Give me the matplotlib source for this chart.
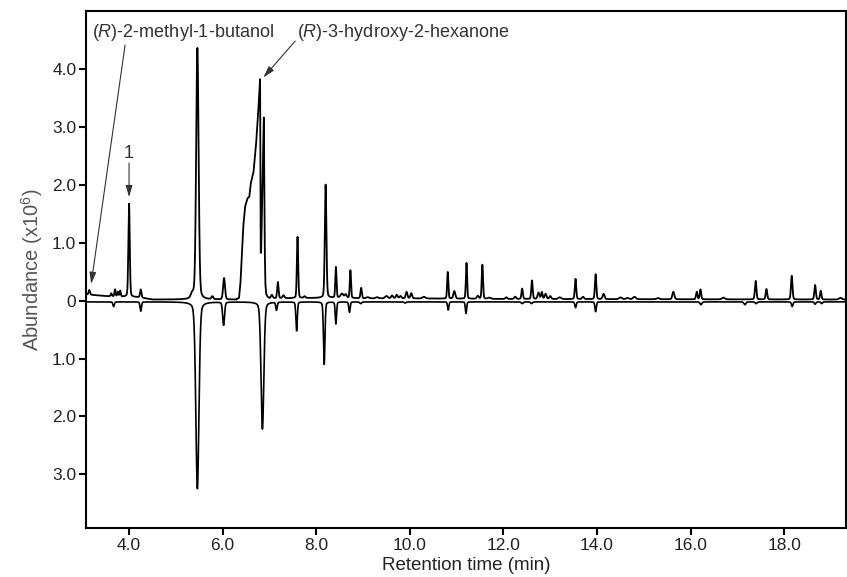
import numpy as np
import matplotlib
matplotlib.use("Agg")
import matplotlib.pyplot as plt

plt.rcParams['font.family'] = ['Liberation Sans', 'DejaVu Sans']
plt.rcParams['mathtext.fontset'] = 'custom'
plt.rcParams['mathtext.rm'] = 'Liberation Sans'
plt.rcParams['mathtext.it'] = 'Liberation Sans:italic'

# ---------------- data ----------------
# upper trace baseline (time, abundance x1e6)
up_base_t = [3.08, 3.5, 4.2, 4.5, 5.2, 6.3, 7.0, 8.5, 9.0, 10.0, 12.0, 19.32]
up_base_v = [0.11, 0.08, 0.06, 0.02, 0.02, 0.02, 0.04, 0.05, 0.04, 0.04, 0.03, 0.02]

# upper trace peaks: retention time, height above baseline, width (sigma)
up_peak_t = [3.15, 3.62, 3.70, 3.76, 3.81, 4.00, 4.25, 5.35, 5.46, 5.78, 6.03,
             7.05, 7.18, 7.30, 7.60, 7.75, 8.20, 8.42, 8.55, 8.63, 8.73, 8.96,
             9.10, 9.30, 9.50, 9.62, 9.72, 9.80, 9.93, 10.03, 10.30, 10.81, 10.95,
             11.21, 11.45, 11.55, 11.70, 12.06, 12.25, 12.40, 12.61, 12.75, 12.82,
             12.90, 13.00, 13.20, 13.54, 13.70, 13.97, 14.14, 14.50, 14.65, 14.80,
             15.30, 15.63, 16.13, 16.21, 16.70, 17.39, 17.62, 18.16, 18.66, 18.78,
             19.20]
up_peak_h = [0.08, 0.05, 0.12, 0.08, 0.10, 1.61, 0.14, 0.08, 4.35, 0.05, 0.37,
             0.06, 0.28, 0.05, 1.06, 0.03, 1.96, 0.53, 0.07, 0.06, 0.48, 0.18,
             0.02, 0.02, 0.04, 0.05, 0.06, 0.04, 0.11, 0.09, 0.03, 0.46, 0.13,
             0.62, 0.05, 0.59, 0.02, 0.03, 0.04, 0.18, 0.32, 0.11, 0.12,
             0.09, 0.05, 0.03, 0.35, 0.04, 0.43, 0.09, 0.03, 0.02, 0.04,
             0.02, 0.13, 0.13, 0.17, 0.03, 0.32, 0.18, 0.41, 0.25, 0.15,
             0.03]
up_peak_w = [0.015, 0.012, 0.012, 0.012, 0.012, 0.015, 0.015, 0.03, 0.026, 0.02, 0.02,
             0.02, 0.015, 0.02, 0.014, 0.02, 0.017, 0.013, 0.03, 0.02, 0.013, 0.015,
             0.03, 0.03, 0.03, 0.02, 0.02, 0.02, 0.018, 0.018, 0.03, 0.013, 0.02,
             0.013, 0.02, 0.014, 0.03, 0.02, 0.02, 0.015, 0.015, 0.02, 0.015,
             0.02, 0.02, 0.03, 0.015, 0.02, 0.015, 0.02, 0.03, 0.03, 0.03,
             0.03, 0.02, 0.015, 0.015, 0.03, 0.016, 0.016, 0.016, 0.016, 0.015,
             0.03]

# unresolved fronting peak region of the upper trace (explicit points)
cx_t = [6.30, 6.35, 6.38, 6.41, 6.44, 6.48, 6.53, 6.57, 6.60, 6.66, 6.71, 6.75,
        6.80, 6.812, 6.822, 6.880, 6.898, 6.912, 6.93, 6.96, 7.00]
cx_v = [0.03, 0.05, 0.30, 0.76, 1.28, 1.63, 1.77, 1.80, 2.03, 2.23, 2.66, 3.13,
        3.83, 0.83, 0.83, 3.17, 1.00, 0.30, 0.12, 0.07, 0.05]

# lower (inverted) trace
low_base = -0.02
low_peak_t = [3.67, 4.25, 5.46, 6.02, 6.85, 7.15, 7.58, 8.17, 8.42, 8.71, 8.95,
              9.90, 10.82, 11.20, 12.40, 12.60, 13.54, 13.97, 16.22, 17.16, 17.40,
              18.17, 18.66, 18.80]
low_peak_h = [-0.08, -0.16, -3.23, -0.40, -2.20, -0.14, -0.50, -1.08, -0.38, -0.18, -0.03,
              -0.02, -0.14, -0.20, -0.03, -0.03, -0.10, -0.17, -0.05, -0.05, -0.03,
              -0.08, -0.04, -0.03]
low_peak_w = [0.015, 0.015, 0.033, 0.02, 0.03, 0.015, 0.015, 0.016, 0.014, 0.015, 0.02,
              0.02, 0.014, 0.014, 0.02, 0.02, 0.015, 0.015, 0.02, 0.02, 0.02,
              0.016, 0.016, 0.016]

x_ticks = [4.0, 6.0, 8.0, 10.0, 12.0, 14.0, 16.0, 18.0]
x_ticklabels = ['4.0', '6.0', '8.0', '10.0', '12.0', '14.0', '16.0', '18.0']
y_ticks = [4.0, 3.0, 2.0, 1.0, 0.0, -1.0, -2.0, -3.0]
y_ticklabels = ['4.0', '3.0', '2.0', '1.0', '0', '1.0', '2.0', '3.0']

# ---------------- build traces (pseudo-Voigt peak shape) ----------------
ETA = 0.22


def peak(tt, p, h, w):
    g = np.exp(-0.5 * ((tt - p) / w) ** 2)
    gam = 1.1774 * w
    lor = 1.0 / (1.0 + ((tt - p) / gam) ** 2)
    return h * ((1 - ETA) * g + ETA * lor)


t = np.union1d(np.linspace(3.08, 19.32, 8121), cx_t)

upper = np.interp(t, up_base_t, up_base_v)
for p, h, w in zip(up_peak_t, up_peak_h, up_peak_w):
    upper = upper + peak(t, p, h, w)
region = (t >= cx_t[0]) & (t <= cx_t[-1])
upper = np.where(region, np.interp(t, cx_t, cx_v), upper)

lower = np.full_like(t, low_base)
for p, h, w in zip(low_peak_t, low_peak_h, low_peak_w):
    lower = lower + peak(t, p, h, w)

# ---------------- draw ----------------
fig = plt.figure(figsize=(8.47, 5.77), dpi=100)
ax = fig.add_axes([86 / 847, 1 - 528 / 577, 760 / 847, 517 / 577])

ax.plot(t, lower, color='black', lw=1.2, zorder=3)
ax.plot(t, upper, color='black', lw=1.3, zorder=4)

ax.set_xlim(3.08, 19.32)
ax.set_ylim(-3.93, 5.01)
ax.set_xticks(x_ticks)
ax.set_xticklabels(x_ticklabels)
ax.set_yticks(y_ticks)
ax.set_yticklabels(y_ticklabels)

for s in ax.spines.values():
    s.set_linewidth(1.5)
    s.set_color('black')
ax.tick_params(direction='out', length=5, width=1.5, labelsize=12.5,
               labelcolor='#222222', pad=2)

ax.set_xlabel('Retention time (min)', fontsize=13.5, color='#222222', labelpad=3)
ax.set_ylabel('Abundance (x10$^{6}$)', fontsize=14.5, color='#555555', labelpad=5)

txt_col = '#333333'
arr = dict(arrowstyle='-|>,head_length=0.7,head_width=0.2', color='#333333',
           lw=0.8, shrinkA=0, shrinkB=0)
ax.text(3.203, 4.56, '($\\mathit{R}$)-2-methyl-1-butanol', fontsize=13,
        color=txt_col, ha='left', va='baseline')
ax.text(7.584, 4.56, '($\\mathit{R}$)-3-hydroxy-2-hexanone', fontsize=13,
        color=txt_col, ha='left', va='baseline')
ax.text(3.985, 2.46, '1', fontsize=13, color=txt_col, ha='center', va='baseline')

ax.annotate('', xy=(3.19, 0.29), xytext=(3.915, 4.42), arrowprops=arr)
ax.annotate('', xy=(6.87, 3.86), xytext=(7.55, 4.49), arrowprops=arr)
ax.annotate('', xy=(4.0, 1.79), xytext=(4.0, 2.38), arrowprops=arr)

fig.savefig('out.png', dpi=100)
